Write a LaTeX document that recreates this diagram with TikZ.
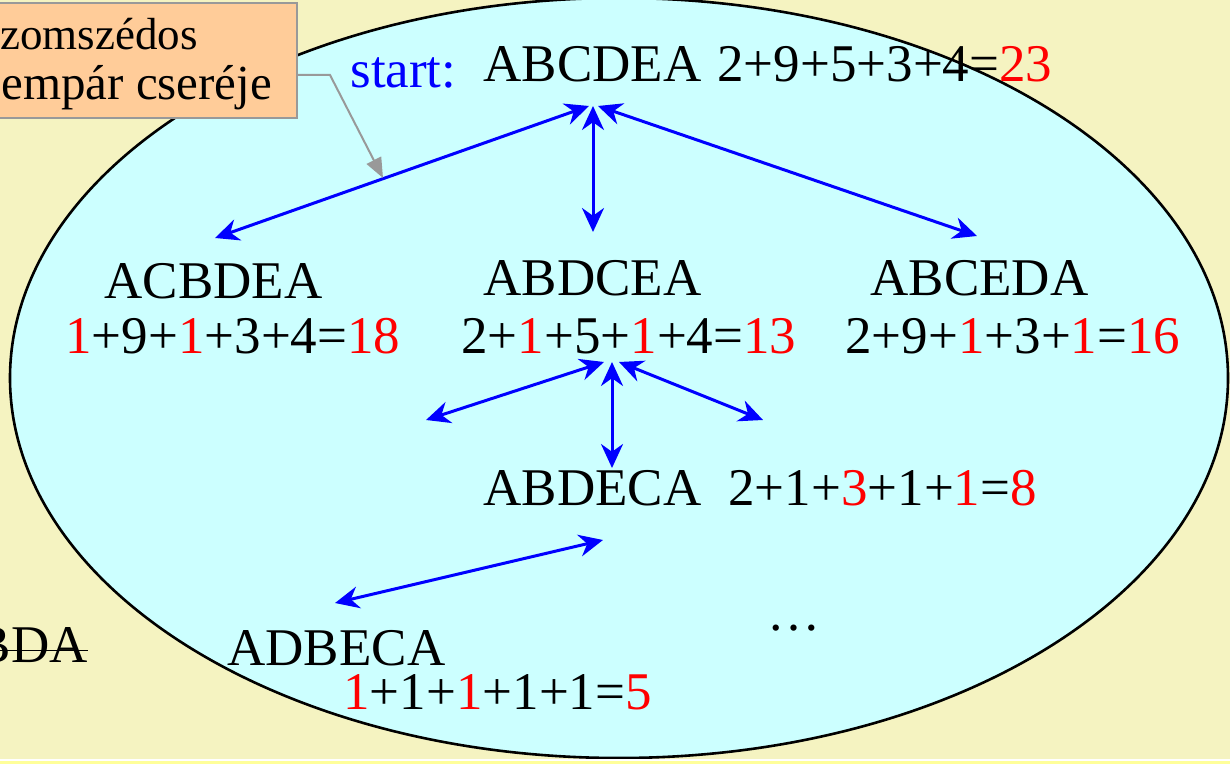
\documentclass[tikz,border=0pt]{standalone}
\usepackage{fontspec}
\setmainfont{Liberation Serif}
\usetikzlibrary{arrows.meta}
\definecolor{bg}{HTML}{F5F3C1}
\definecolor{ell}{HTML}{CCFFFF}
\definecolor{boxc}{HTML}{FFCC99}
\definecolor{grayc}{HTML}{999999}
\definecolor{stripe}{HTML}{FFFF99}
\newcommand\rd[1]{\textcolor{red}{#1}}
\begin{document}
\begin{tikzpicture}[x=0.5pt,y=-0.5pt,
 txt/.style={anchor=base west,inner sep=0pt,font=\fontsize{26.5}{30}\selectfont},
 boxtxt/.style={anchor=base west,inner sep=0pt,font=\fontsize{23}{26}\selectfont},
 arr/.style={draw=blue,line width=1.5pt,{Stealth[length=12pt,width=11pt]}-{Stealth[length=12pt,width=11pt]}},
 conn/.style={draw=grayc,line width=1pt,-{Triangle[length=10pt,width=8pt]}}
]
\useasboundingbox (0,0) rectangle (1230,764);
\clip (0,0) rectangle (1230,764);
\fill[bg] (0,0) rectangle (1230,764);
\draw[fill=ell,line width=1.3pt] (619,378) ellipse [x radius=609, y radius=380];
\fill[white] (0,758.5) rectangle (1230,760.5);
\fill[stripe] (0,760.5) rectangle (1230,764);

% struck-out text at left
\node[txt,anchor=base east] (strk) at (88,662) {BDA};
\draw[line width=0.8pt] ([yshift=-3pt]strk.west) -- ([yshift=-3pt]strk.east);

% texts
\node[txt,text=blue] (start) at (350,88) {start:};
\node[txt] (n0) at (483,82) {ABCDEA};
\node[txt] (e0) at (717,82) {2+9+5+3+4=\rd{23}};
\node[txt] (n1) at (104,299) {ACBDEA};
\node[txt] (e1) at (65,354) {\rd{1}+9+\rd{1}+3+4=\rd{18}};
\node[txt] (n2) at (483,296) {ABDCEA};
\node[txt] (e2) at (461,354) {2+\rd{1}+5+\rd{1}+4=\rd{13}};
\node[txt] (n3) at (870,296) {ABCEDA};
\node[txt] (e3) at (845,354) {2+9+\rd{1}+3+\rd{1}=\rd{16}};
\node[txt] (n4) at (483,505) {ABDECA};
\node[txt] (e4) at (728,505) {2+1+\rd{3}+1+\rd{1}=\rd{8}};
\node[txt] (n5) at (227,665) {ADBECA};
\node[txt] (e5) at (343,709) {\rd{1}+1+\rd{1}+1+1=\rd{5}};
\node[txt] (dots) at (767,630) {…};

% arrow end points
\coordinate (t0l) at (589,106);
\coordinate (t0m) at (593,106);
\coordinate (t0r) at (598,106);
\coordinate (t1) at (215,238);
\coordinate (t2) at (593,232);
\coordinate (t3) at (977,236);
\coordinate (u0l) at (604,362);
\coordinate (u0m) at (612,362);
\coordinate (u0r) at (619,362);
\coordinate (u1) at (426,420);
\coordinate (u2) at (612,468);
\coordinate (u3) at (763,420);
\coordinate (v0) at (603,540);
\coordinate (v1) at (335,603);

\draw[arr] (t0l) -- (t1);
\draw[arr] (t0m) -- (t2);
\draw[arr] (t0r) -- (t3);
\draw[arr] (u0l) -- (u1);
\draw[arr] (u0m) -- (u2);
\draw[arr] (u0r) -- (u3);
\draw[arr] (v0) -- (v1);

% callout box
\node[draw=grayc,fill=boxc,line width=1pt,inner sep=0pt,minimum width=153.5pt,minimum height=57.5pt] (box) at (143.5,60.5) {};
\node[boxtxt,font=\fontsize{22.5}{26}\selectfont] (b1) at (0,50) {zomszédos};
\node[boxtxt,font=\fontsize{24.5}{28}\selectfont] (b2) at (1,100) {empár cseréje};
\coordinate (g1) at (330,75);
\coordinate (g2) at (383,178);
\draw[conn] (box.east |- g1) -- (g1) -- (g2);
\end{tikzpicture}
\end{document}
